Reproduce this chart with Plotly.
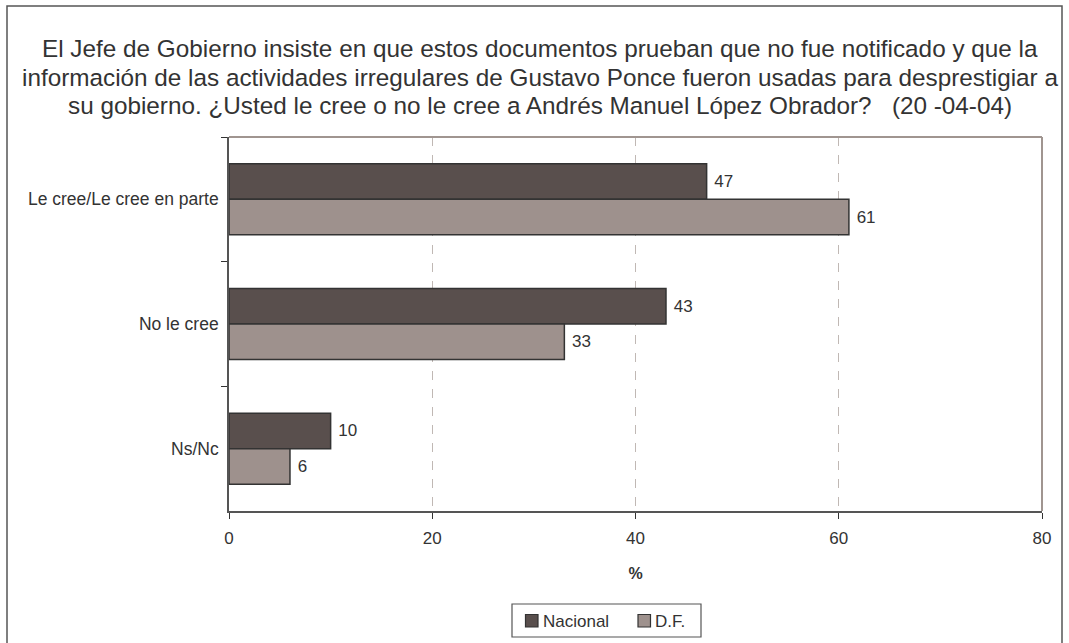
import plotly.graph_objects as go

categories = ["Le cree/Le cree en parte", "No le cree", "Ns/Nc"]
nacional = [47, 43, 10]
df = [61, 33, 6]
x_ticks = [0, 20, 40, 60, 80]
series_names = ["Nacional", "D.F."]
series_colors = ["#594f4d", "#9e918d"]

title_lines = [
    "El Jefe de Gobierno insiste en que estos documentos prueban que no fue notificado y que la",
    "información de las actividades irregulares de Gustavo Ponce fueron usadas para desprestigiar a",
    "su gobierno. ¿Usted le cree o no le cree a Andrés Manuel López Obrador?   (20 -04-04)",
]

FONT = "Liberation Sans, Arial, sans-serif"
L, R, T, B = 229, 27, 137, 132
W, H = 1069, 643
pw, ph = W - L - R, H - T - B


def px_x(p):
    return (p - L) / pw


def px_y(p):
    return (H - B - p) / ph


fig = go.Figure()

for name, vals, col in zip(series_names, [nacional, df], series_colors):
    fig.add_trace(go.Bar(y=categories, x=vals, name=name, orientation="h",
                         marker=dict(color=col, line=dict(color="#333333", width=1.5)),
                         text=vals, texttemplate="\u00a0%{x}", textposition="outside",
                         cliponaxis=False, textfont=dict(size=17, color="#333333")))

# title as separate lines to match the line spacing
for i, line in enumerate(title_lines):
    fig.add_annotation(text=line, xref="paper", yref="paper",
                       x=px_x(540), y=px_y(49 + i * 28.5), xanchor="center", yanchor="middle",
                       showarrow=False, font=dict(size=24.3, color="#333333", family=FONT))

# outer frame
fig.add_shape(type="rect", xref="paper", yref="paper",
              x0=px_x(7), x1=px_x(1062), y0=px_y(660), y1=px_y(6),
              line=dict(color="#555555", width=1.5), layer="below")

# legend box drawn by hand (Excel style: small squares next to the text)
fig.add_shape(type="rect", xref="paper", yref="paper",
              x0=px_x(512), x1=px_x(701), y0=px_y(637), y1=px_y(604),
              line=dict(color="#555555", width=1.2), fillcolor="white")
for name, col, sx in zip(series_names, series_colors, [525.5, 638]):
    fig.add_shape(type="rect", xref="paper", yref="paper",
                  x0=px_x(sx), x1=px_x(sx + 12.5), y0=px_y(627), y1=px_y(614.5),
                  line=dict(color="#333333", width=1.2), fillcolor=col)
    fig.add_annotation(text=name, xref="paper", yref="paper",
                       x=px_x(sx + 15), y=px_y(621), xanchor="left", yanchor="middle",
                       showarrow=False, font=dict(size=17, color="#333333", family=FONT))

fig.update_layout(
    width=W, height=H,
    margin=dict(l=L, r=R, t=T, b=B),
    paper_bgcolor="white", plot_bgcolor="white",
    font=dict(family=FONT, size=17, color="#333333"),
    barmode="group", bargap=0.43, bargroupgap=0,
    showlegend=False,
    xaxis=dict(range=[0, 80], tickvals=x_ticks, showgrid=True, gridcolor="#c0b8b4",
               griddash="dash", gridwidth=1, zeroline=False,
               showline=True, linecolor="#555555", linewidth=2, mirror=False,
               ticks="outside", ticklen=6, tickcolor="#333333", ticklabelstandoff=5,
               title=dict(text="<b>%</b>", font=dict(size=16), standoff=20),
               tickfont=dict(size=17)),
    yaxis=dict(autorange="reversed", showgrid=False, zeroline=False,
               showline=True, linecolor="#555555", linewidth=2,
               ticks="outside", ticklen=6, tickcolor="#333333", tickson="boundaries",
               tickfont=dict(size=17.5), ticksuffix=" "),
)

# top and right border of the plot area
fig.add_shape(type="line", xref="paper", yref="paper", x0=0, x1=1, y0=1, y1=1,
              line=dict(color="#a09590", width=2))
fig.add_shape(type="line", xref="paper", yref="paper", x0=1, x1=1, y0=0, y1=1,
              line=dict(color="#a09590", width=2))

fig.write_html("out.html", config={"displayModeBar": False},
               post_script="document.body.style.margin='0';")
